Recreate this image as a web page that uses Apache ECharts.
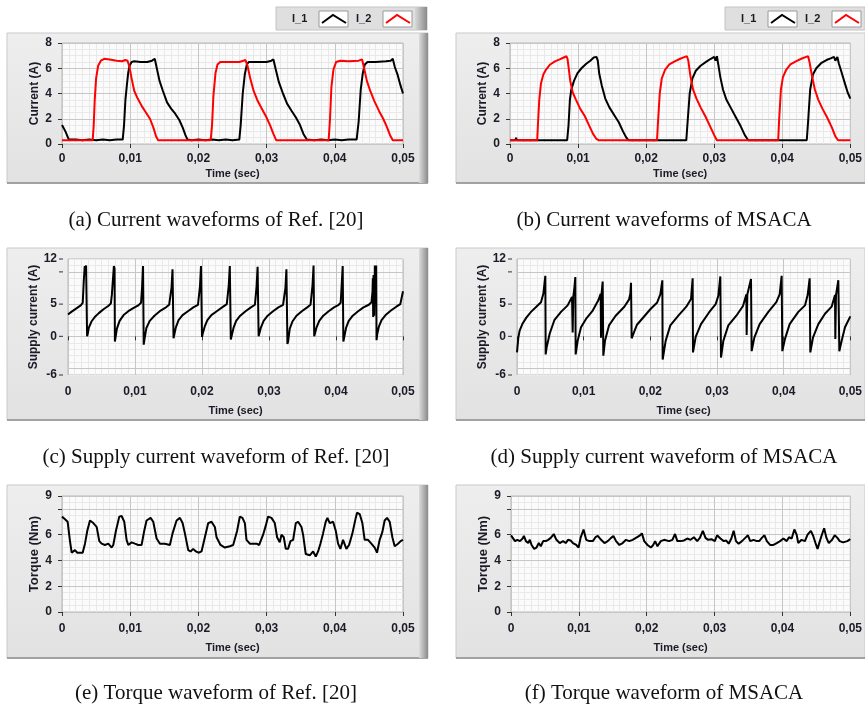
<!DOCTYPE html>
<html><head><meta charset="utf-8">
<script src="https://cdn.jsdelivr.net/npm/echarts@6/dist/echarts.min.js"></script>
<style>html,body{margin:0;padding:0;background:#fff}#c{width:865px;height:704px}</style>
</head><body><div id="c"></div><script>
// ---------- tick labels ----------
const xTickLabels = ['0', '0,01', '0,02', '0,03', '0,04', '0,05'];   // time axis, sec
const yLabelsCurrent = [0, 2, 4, 6, 8];
const yLabelsSupply = [12, 5, 0, -6];
const yUnlabelledSupplyTicks = [10, -5];
const yLabelsTorque = [0, 2, 4, 6, 9];
const captions = [
  '(a) Current waveforms of Ref. [20]', '(b) Current waveforms of MSACA',
  '(c) Supply current waveform of Ref. [20]', '(d) Supply current waveform of MSACA',
  '(e) Torque waveform of Ref. [20]', '(f) Torque waveform of MSACA'
];
// ---------- data (time in ms) ----------
// (a) Ref. [20] phase currents
const aI1TimeMs = [0,0.5,1.0,2,3,4,5,6,7,8,8.9,9.1,9.3,9.5,9.7,9.9,10.2,10.6,11.5,12.5,13.2,13.6,13.9,14.3,14.8,15.4,16.0,16.6,17.2,17.7,18.1,18.4,19,20,21,22,23,24,25,26.0,26.2,26.5,26.8,27.1,27.4,28.5,30,30.7,31.0,31.3,31.8,32.4,33.0,33.7,34.3,34.9,35.4,35.9,37,38,39,40,41,42,43.2,43.5,43.8,44.1,44.4,44.8,46,47.5,48.2,48.5,48.8,49.2,49.6,50];
const aI1 = [1.5,1.0,0.35,0.35,0.3,0.35,0.3,0.35,0.3,0.35,0.35,1.5,3.5,4.6,5.6,6.2,6.5,6.55,6.5,6.5,6.6,6.75,6.0,5.0,4.2,3.3,2.8,2.4,1.9,1.3,0.7,0.35,0.3,0.35,0.3,0.35,0.3,0.35,0.3,0.35,1.5,4.0,5.5,6.3,6.5,6.5,6.5,6.6,6.7,6.0,4.9,4.0,3.2,2.6,2.1,1.5,0.8,0.35,0.3,0.35,0.3,0.35,0.3,0.35,0.35,1.8,4.3,5.6,6.3,6.5,6.5,6.55,6.6,6.75,6.1,5.5,4.7,4.0];
const aI2TimeMs = [0,1,2,3,4.5,4.65,4.8,5.0,5.3,5.7,6.2,7.0,8.0,8.8,9.3,9.6,9.9,10.2,10.6,11.1,11.7,12.3,12.9,13.4,13.8,14.1,16,18,20,21.8,22.0,22.2,22.5,22.8,23.2,24.5,26,26.6,26.9,27.2,27.6,28.1,28.7,29.3,29.9,30.5,31.0,31.4,33,35,37,39.1,39.3,39.5,39.8,40.2,40.8,42,43.5,44.0,44.3,44.7,45.2,45.8,46.5,47.1,47.6,48.1,48.5,50];
const aI2 = [0.3,0.3,0.3,0.3,0.3,1.5,3.5,5.2,6.2,6.6,6.75,6.7,6.6,6.55,6.65,6.6,6.1,5.2,4.2,3.6,3.0,2.5,2.0,1.3,0.6,0.3,0.3,0.3,0.3,0.3,1.5,3.8,5.6,6.3,6.5,6.5,6.5,6.6,6.65,6.2,5.2,4.2,3.4,2.8,2.2,1.5,0.8,0.3,0.3,0.3,0.3,0.3,2.0,4.5,5.9,6.5,6.6,6.55,6.6,6.7,6.0,5.0,4.2,3.4,2.6,2.0,1.4,0.7,0.3,0.3];
// (b) MSACA phase currents
const bI1TimeMs = [0,0.8,0.9,1.0,3,6,8.4,8.6,8.8,9.0,9.4,9.9,10.5,11.2,11.8,12.3,12.5,12.7,12.9,13.1,13.5,14.0,14.6,15.3,16.0,16.6,17.1,17.4,20,23,25.9,26.1,26.4,26.8,27.3,28.0,28.8,29.5,30.0,30.2,30.4,30.6,30.9,31.3,31.8,32.5,33.2,33.9,34.5,35.0,38,41,43.6,43.8,44.1,44.5,45.0,45.7,46.5,47.2,47.6,47.8,48.1,48.3,48.7,49.2,49.6,50];
const bI1 = [0.3,0.3,0.5,0.3,0.3,0.3,0.3,1.5,3.5,4.3,5.0,5.6,6.0,6.35,6.6,6.85,6.7,6.9,6.6,5.6,4.6,3.6,2.9,2.3,1.7,1.0,0.5,0.3,0.3,0.3,0.3,1.8,4.0,5.2,5.8,6.2,6.5,6.75,6.9,6.6,6.95,6.3,5.3,4.3,3.5,2.8,2.1,1.4,0.7,0.3,0.3,0.3,0.3,1.8,4.3,5.5,6.0,6.4,6.65,6.8,6.9,6.6,6.9,6.4,5.7,4.8,4.1,3.6];
const bI2TimeMs = [0,2,4.0,4.1,4.3,4.55,4.9,5.3,5.9,6.6,7.3,7.9,8.3,8.45,8.6,8.85,9.2,9.7,10.3,11.0,11.6,12.2,12.7,13.0,15,18,21.6,21.75,22.0,22.3,22.8,23.4,24.2,25.0,25.7,26.0,26.2,26.5,26.9,27.4,28.0,28.7,29.4,30.0,30.4,33,36,39.4,39.55,39.8,40.1,40.6,41.2,42.0,42.8,43.5,43.8,44.0,44.4,44.8,45.3,45.9,46.6,47.3,47.8,48.2,50];
const bI2 = [0.3,0.3,0.3,1.5,3.5,4.8,5.5,5.9,6.3,6.55,6.7,6.85,6.95,6.75,6.1,5.0,4.1,3.5,2.8,2.2,1.5,0.8,0.4,0.3,0.3,0.3,0.3,1.8,4.0,5.2,5.9,6.3,6.55,6.75,6.9,6.95,6.6,5.4,4.3,3.6,2.9,2.2,1.4,0.7,0.3,0.3,0.3,0.3,2.0,4.3,5.3,5.9,6.3,6.55,6.75,6.9,6.95,6.5,5.3,4.3,3.5,2.8,2.1,1.3,0.6,0.3,0.3];
// (c) Ref. [20] supply current
const cTimeMs = [0,0.5,1.2,1.9,2.2,2.35,2.5,2.6,2.7,2.8,2.85,
  2.95,3.1,3.5,4.0,4.6,5.3,6.0,6.4,6.55,6.85,6.95,7.0,
  7.1,7.3,7.7,8.3,9.0,9.8,10.5,10.9,11.05,11.2,11.3,
  11.4,11.7,12.2,12.9,13.7,14.5,15.1,15.3,15.45,15.6,15.75,
  15.85,16.1,16.5,17.1,17.9,18.7,19.4,19.6,19.7,19.85,20.0,
  20.1,20.4,20.8,21.4,22.2,23.0,23.7,23.9,24.0,24.15,24.3,
  24.4,24.7,25.1,25.7,26.5,27.3,27.9,28.05,28.15,28.3,28.45,
  28.55,28.8,29.2,29.8,30.6,31.4,32.1,32.3,32.45,32.6,32.75,
  32.85,33.1,33.5,34.1,34.9,35.7,36.2,36.4,36.5,36.65,36.75,
  36.85,37.1,37.5,38.1,38.9,39.7,40.4,40.7,40.85,41.0,41.1,
  41.2,41.5,41.9,42.5,43.3,44.1,44.9,45.3,45.45,45.5,45.55,45.6,45.7,45.8,45.9,46.0,46.05,
  46.15,46.4,46.8,47.4,48.2,49.0,49.6,49.8,50];
const cSupply = [3.4,3.8,4.3,4.8,5.2,8.5,10.9,9.8,11.0,10.8,0.0,
  0.4,1.3,2.3,3.0,3.6,4.2,4.7,5.1,6.5,10.9,10.5,-0.8,
  -0.5,1.2,2.4,3.3,3.9,4.4,4.8,5.2,7.5,10.9,-1.3,
  -0.6,1.3,2.4,3.2,3.9,4.4,4.9,5.2,7.5,10.4,-0.3,
  0.2,1.4,2.5,3.3,3.9,4.5,4.9,5.2,7.8,10.9,-0.1,
  0.4,1.5,2.5,3.3,3.9,4.5,5.0,5.3,8.0,10.9,-0.5,
  -0.2,1.3,2.4,3.2,3.9,4.5,4.9,5.2,7.8,10.8,0.0,
  0.3,1.4,2.4,3.2,3.9,4.5,4.9,5.2,7.5,10.4,-1.2,
  -0.8,1.2,2.3,3.2,3.9,4.5,4.9,5.2,8.0,11.0,0.0,
  0.3,1.4,2.4,3.2,3.9,4.5,4.9,5.2,8.0,10.9,-0.8,
  -0.5,1.3,2.4,3.2,3.9,4.5,4.9,5.3,7.0,9.0,3.0,9.5,3.2,11.0,8.0,11.0,-0.6,
  0.3,1.5,2.5,3.3,4.0,4.6,5.0,5.3,7.0];
// (d) MSACA supply current
const dTimeMs = [0,0.2,0.4,0.8,1.4,2.1,2.9,3.6,3.95,4.25,4.3,
  4.45,4.9,5.6,6.6,7.6,8.25,8.35,8.45,8.6,8.75,8.8,
  9.1,9.6,10.35,11.3,12.2,12.55,12.6,12.7,12.85,12.95,
  13.2,13.8,14.8,16.1,16.8,17.0,17.1,17.2,
  17.5,18.0,19.0,20.0,21.0,21.5,21.8,21.85,
  22.3,23.0,24.2,25.4,26.1,26.35,26.4,
  26.8,27.6,28.8,29.8,30.2,30.5,30.6,
  30.95,31.7,32.9,33.9,34.4,34.45,34.55,35.1,35.2,
  35.6,36.4,37.7,38.9,39.4,39.7,39.8,
  40.2,40.9,42.2,43.2,43.6,43.9,44.0,
  44.4,45.2,46.2,47.2,47.7,47.75,47.85,48.2,48.35,
  48.7,49.2,50];
const dSupply = [-2.5,-0.2,0.9,1.9,2.9,3.8,4.6,5.3,6.6,9.4,-2.8,
  -1.7,0.4,2.5,3.8,4.8,6.1,0.6,6.2,7.5,9.2,-2.8,
  -0.7,1.4,2.7,3.9,5.6,6.6,-0.2,6.8,8.5,-3.0,
  -0.7,1.7,3.2,4.6,5.7,6.6,8.3,-0.3,
  0.5,1.8,3.0,4.2,5.2,6.5,8.7,-3.6,
  -0.7,1.7,3.2,4.6,5.8,9.0,-2.5,
  -0.1,1.9,3.7,5.0,6.3,9.3,-3.3,
  -0.7,1.7,3.2,4.7,6.5,0.2,6.5,8.9,-2.3,
  -0.2,1.9,3.8,5.3,6.5,9.4,-2.3,
  -0.4,1.9,3.8,4.8,6.4,9.0,-2.5,
  -0.2,1.9,3.5,4.6,6.4,-0.4,6.4,8.7,-2.3,
  -0.7,1.4,3.1];
// (e) Ref. [20] torque
const eTimeMs = [0,0.44,0.83,1.17,1.42,1.90,2.25,2.64,3.03,3.37,3.71,4.10,4.59,5.08,5.47,5.81,6.30,6.79,7.28,7.52,7.91,8.40,8.74,9.13,9.47,9.72,10.21,10.69,11.18,11.67,12.06,12.40,12.99,13.38,13.87,14.36,15.09,15.82,16.21,16.80,17.29,17.68,18.02,18.51,18.85,19.24,19.63,20.02,20.46,20.95,21.44,21.92,22.41,22.66,23.24,23.88,24.61,25.10,25.68,26.07,26.46,26.81,27.05,27.54,28.52,28.91,29.49,29.88,30.22,30.71,31.20,31.54,31.93,32.18,32.52,32.81,33.15,33.50,33.89,34.28,34.62,35.11,35.35,35.74,36.33,36.82,37.21,37.55,37.89,38.28,38.67,38.92,39.26,39.75,40.14,40.48,40.82,41.21,41.46,41.70,42.09,42.58,43.07,43.26,43.65,44.04,44.38,44.87,45.36,45.85,46.19,46.58,46.97,47.31,47.66,48.05,48.44,48.78,49.27,49.66,50.0];
const eTorque = [7.4,7.2,7.0,5.5,4.6,4.8,4.6,4.6,4.6,5.3,6.3,7.1,6.9,6.6,5.5,5.3,5.2,5.3,5.0,5.2,6.3,7.4,7.45,7.0,5.6,5.2,5.4,5.3,5.2,5.2,6.3,7.1,7.3,7.0,5.7,5.3,5.3,5.2,6.1,7.1,7.3,6.9,6.1,4.8,4.7,4.9,4.7,4.6,4.7,5.8,6.9,7.0,6.6,5.8,5.2,5.0,5.1,5.2,6.3,7.4,7.3,6.9,5.6,5.3,5.3,5.2,6.0,6.7,7.4,7.3,6.9,5.8,5.4,6.0,5.8,4.9,4.9,5.5,5.6,6.9,7.0,6.6,6.0,4.5,4.4,4.7,4.3,4.7,5.3,6.1,7.0,7.3,6.9,7.0,6.3,5.3,4.9,5.6,5.5,4.9,5.2,6.1,7.3,7.7,7.6,6.9,5.6,5.6,5.3,5.0,4.6,5.6,6.2,7.1,7.3,7.0,5.8,5.1,5.3,5.5,5.6];
// (f) MSACA torque
const fTimeMs = [0,0.24,0.59,0.93,1.32,1.71,1.90,2.20,2.54,2.78,3.03,3.42,3.76,4.10,4.39,4.74,5.13,5.47,5.86,6.30,6.69,7.18,7.67,8.06,8.40,8.79,9.13,9.62,9.96,10.25,10.69,11.08,11.57,12.06,12.45,12.79,13.28,13.77,14.26,14.75,15.09,15.48,15.97,16.46,16.94,17.43,17.92,18.41,18.90,19.29,19.63,20.12,20.61,20.95,21.24,21.58,22.07,22.56,23.29,23.78,24.17,24.51,25.00,25.49,25.98,26.46,26.95,27.44,27.83,28.27,28.66,29.05,29.54,30.03,30.37,30.86,31.35,31.69,32.08,32.47,32.81,33.15,33.54,34.03,34.52,34.91,35.25,35.74,36.23,36.57,36.96,37.35,37.70,38.18,38.67,39.16,39.65,40.14,40.63,40.97,41.36,41.75,42.09,42.33,42.82,43.31,43.70,44.19,44.53,44.87,45.17,45.51,45.75,46.14,46.48,46.83,47.31,47.70,48.10,48.44,48.93,49.56,50];
const fTorque = [5.95,5.8,5.5,5.6,5.5,5.7,5.9,5.5,5.35,5.6,5.2,4.9,5.0,5.35,5.1,5.5,5.5,5.6,5.75,6.05,5.6,5.35,5.5,5.35,5.6,5.55,5.35,5.2,5.0,5.75,6.4,5.6,5.5,5.5,5.8,5.9,5.6,5.35,5.5,5.75,5.9,5.5,5.2,5.35,5.6,5.5,5.6,5.75,5.9,6.1,5.5,5.2,5.0,5.2,5.5,5.1,5.5,5.6,5.5,5.6,6.05,5.5,5.5,5.55,5.7,5.6,5.8,5.5,5.75,6.3,5.75,5.6,5.65,5.5,5.95,5.7,5.5,5.55,5.3,5.7,6.3,5.5,5.3,5.5,5.75,5.95,5.5,5.6,5.5,5.5,5.75,5.95,5.5,5.2,5.2,5.35,5.5,5.7,5.5,5.8,5.7,6.4,6.0,5.35,5.6,5.5,6.0,6.3,5.9,5.35,4.9,5.5,5.9,6.5,5.75,5.35,5.6,5.95,5.75,5.5,5.4,5.5,5.65];

// ---------- layout ----------
const FONT = '"Liberation Sans", Arial, sans-serif';
const TXT = '#1b1b28';
const MAJOR = '#c6c6c6', MINOR = '#e9e9e9';
const grids = [
  {left: 62, top: 43, width: 341, height: 101},
  {left: 510, top: 43, width: 342, height: 101},
  {left: 68, top: 259, width: 335, height: 116},
  {left: 517, top: 259, width: 335, height: 116},
  {left: 62, top: 496, width: 341, height: 116},
  {left: 511, top: 496, width: 341, height: 116}
];
const yCfg = [
  {min: 0, max: 8, interval: 2, minor: 0.5, shown: yLabelsCurrent, name: 'Current (A)', gap: 17, fs: 12},
  {min: 0, max: 8, interval: 2, minor: 0.5, shown: yLabelsCurrent, name: 'Current (A)', gap: 17, fs: 12},
  {min: -6, max: 12, interval: 1, minor: 1, supply: true, shown: yLabelsSupply, name: 'Supply current (A)', gap: 19, fs: 12},
  {min: -6, max: 12, interval: 1, minor: 1, supply: true, shown: yLabelsSupply, name: 'Supply current (A)', gap: 20, fs: 12},
  {min: 0, max: 9, interval: 2, minor: 0.5, shown: yLabelsTorque, name: 'Torque (Nm)', gap: 17, fs: 13},
  {min: 0, max: 9, interval: 2, minor: 0.5, shown: yLabelsTorque, name: 'Torque (Nm)', gap: 17, fs: 13}
];
const xLabelMargin = [6, 6, 8, 8, 8, 8];
const xNameGap = [21, 21, 27, 27, 27, 27];
const labelFont = {color: TXT, fontFamily: FONT, fontWeight: 'bold', fontSize: 12, showMinLabel: true, showMaxLabel: true};

const xAxes = [], yAxes = [];
grids.forEach((g, i) => {
  xAxes.push({
    type: 'value', gridIndex: i, min: 0, max: 50, interval: 10, offset: 3, z: 2,
    axisLine: {show: false},
    axisTick: {show: true, length: 4, lineStyle: {color: '#333', width: 1}},
    axisLabel: Object.assign({margin: xLabelMargin[i], formatter: v => xTickLabels[Math.round(v / 10)]}, labelFont),
    splitLine: {show: true, lineStyle: {color: MAJOR, width: 1}},
    name: 'Time (sec)', nameLocation: 'middle', nameGap: xNameGap[i],
    nameTextStyle: {color: TXT, fontFamily: FONT, fontWeight: 'bold', fontSize: 11}
  });
  const c = yCfg[i];
  const ax = {
    type: 'value', gridIndex: i, min: c.min, max: c.max, interval: c.interval, offset: 4, z: 2,
    axisLine: {show: false},
    axisTick: {show: true, length: 4, lineStyle: {color: '#333', width: 1}},
    axisLabel: Object.assign({margin: 6, formatter: v => (c.shown.indexOf(v) >= 0 ? String(v) : '')}, labelFont),
    splitLine: {show: true, lineStyle: {color: MAJOR, width: 1}},
    name: c.name, nameLocation: 'middle', nameGap: c.gap, nameRotate: 90,
    nameTextStyle: {color: TXT, fontFamily: FONT, fontWeight: 'bold', fontSize: c.fs}
  };
  if (c.supply) {
    // gridlines every 1 A, darker every 5 A (-5, 0, 5, 10); tick marks drawn as part of the labels
    ax.offset = 0;
    ax.axisTick = {show: false};
    ax.splitLine = {show: true, lineStyle: {color: [MINOR, MAJOR, MINOR, MINOR, MINOR], width: 1}};
    ax.axisLabel = Object.assign({margin: 5, hideOverlap: false,
      formatter: v => (c.shown.indexOf(v) >= 0 ? v + '{s|}{t|}' : (yUnlabelledSupplyTicks.indexOf(v) >= 0 ? '{t|}' : '')),
      rich: {s: {width: 2}, t: {width: 4, height: 1, backgroundColor: '#333'}}}, labelFont);
  }
  yAxes.push(ax);
});
// minor grid axes
grids.forEach((g, i) => {
  xAxes.push({
    type: 'value', gridIndex: i, min: 0, max: 50, interval: 1, z: 1,
    axisLine: {show: false}, axisTick: {show: false}, axisLabel: {show: false},
    splitLine: {show: true, lineStyle: {color: MINOR, width: 1}}
  });
  const c = yCfg[i];
  yAxes.push({
    type: 'value', gridIndex: i, min: c.min, max: c.max, interval: c.minor, z: 1,
    axisLine: {show: false}, axisTick: {show: false}, axisLabel: {show: false},
    splitLine: {show: !c.supply, lineStyle: {color: MINOR, width: 1}}
  });
});

const pairs = (t, v) => t.map((x, k) => [x, v[k]]);
const mk = (name, idx, t, v, color) => ({
  name, type: 'line', xAxisIndex: idx, yAxisIndex: idx, data: pairs(t, v),
  showSymbol: false, symbol: 'none', animation: false, z: 5,
  lineStyle: {color, width: 2}, itemStyle: {color}
});
const series = [
  mk('I_1', 0, aI1TimeMs, aI1, '#000000'),
  mk('I_2', 0, aI2TimeMs, aI2, '#ff0000'),
  mk('I_1', 1, bI1TimeMs, bI1, '#000000'),
  mk('I_2', 1, bI2TimeMs, bI2, '#ff0000'),
  mk('Supply current', 2, cTimeMs, cSupply, '#000000'),
  mk('Supply current', 3, dTimeMs, dSupply, '#000000'),
  mk('Torque', 4, eTimeMs, eTorque, '#000000'),
  mk('Torque', 5, fTimeMs, fTorque, '#000000')
];

// ---------- decorations (frames, legends, captions) ----------
const frames = [
  [7, 33, 421, 150, true], [456, 33, 409, 150, false],
  [7, 248, 421, 172, true], [456, 248, 409, 172, false],
  [7, 485, 421, 173, true], [456, 485, 409, 173, false]
];
const graphic = [];
frames.forEach(([x, y, w, h, shadow]) => {
  graphic.push({type: 'rect', z: -10, shape: {x, y, width: w, height: h},
    style: {fill: {type: 'linear', x: 0, y: 0, x2: 0, y2: 1, colorStops: [{offset: 0, color: '#eeeeee'}, {offset: 1, color: '#e2e2e2'}]},
      stroke: '#c9c9c9', lineWidth: 1}});
  graphic.push({type: 'line', z: -9, shape: {x1: x, y1: y + h, x2: x + w, y2: y + h}, style: {stroke: '#8e8e8e', lineWidth: 1.5}});
  if (shadow) {
    graphic.push({type: 'rect', z: -9, shape: {x: x + w - 9, y, width: 9, height: h},
      style: {fill: {type: 'linear', x: 0, y: 0, x2: 1, y2: 0, colorStops: [{offset: 0, color: '#dcdcdc'}, {offset: 1, color: '#8a8a8a'}]}}});
  }
});
const legendOrigins = [[276, 7, true], [725, 7, false]];
legendOrigins.forEach(([x0, y0, shadow]) => {
  const w = shadow ? 151 : 140;
  graphic.push({type: 'rect', z: -10, shape: {x: x0, y: y0, width: w, height: 23},
    style: {fill: '#dfdfdf', stroke: '#c4c4c4', lineWidth: 1}});
  if (shadow) {
    graphic.push({type: 'rect', z: -9, shape: {x: x0 + w - 12, y: y0, width: 12, height: 23},
      style: {fill: {type: 'linear', x: 0, y: 0, x2: 1, y2: 0, colorStops: [{offset: 0, color: '#d8d8d8'}, {offset: 1, color: '#8a8a8a'}]}}});
  }
  [['I_1', '#000000', 0], ['I_2', '#ff0000', 64]].forEach(([name, col, dx]) => {
    graphic.push({type: 'text', z: 10, style: {text: name, x: x0 + 16 + dx, y: y0 + 12, textVerticalAlign: 'middle',
      font: 'bold 11px ' + FONT, fill: TXT}});
    graphic.push({type: 'rect', z: 10, shape: {x: x0 + 43 + dx, y: y0 + 4, width: 29, height: 16},
      style: {fill: '#ffffff', stroke: '#9a9a9a', lineWidth: 1}});
    graphic.push({type: 'polyline', z: 11, shape: {points: [[x0 + 46 + dx, y0 + 16], [x0 + 57 + dx, y0 + 8], [x0 + 70 + dx, y0 + 16]]},
      style: {stroke: col, lineWidth: 2, fill: null}});
  });
});
const capPos = [[216, 220], [664, 220], [216, 457], [664, 457], [216, 693], [664, 693]];
captions.forEach((t, i) => {
  graphic.push({type: 'text', z: 10, style: {text: t, x: capPos[i][0], y: capPos[i][1], textAlign: 'center', textVerticalAlign: 'middle',
    font: '21px "Liberation Serif", "Times New Roman", serif', fill: '#111'}});
});

const chart = echarts.init(document.getElementById('c'), null, {renderer: 'canvas'});
chart.setOption({
  backgroundColor: '#ffffff',
  animation: false,
  grid: grids.map(g => Object.assign({show: true, backgroundColor: '#fbfbfb', borderColor: '#b8b8b8', borderWidth: 1, containLabel: false}, g)),
  xAxis: xAxes,
  yAxis: yAxes,
  series,
  graphic
});
</script></body></html>
